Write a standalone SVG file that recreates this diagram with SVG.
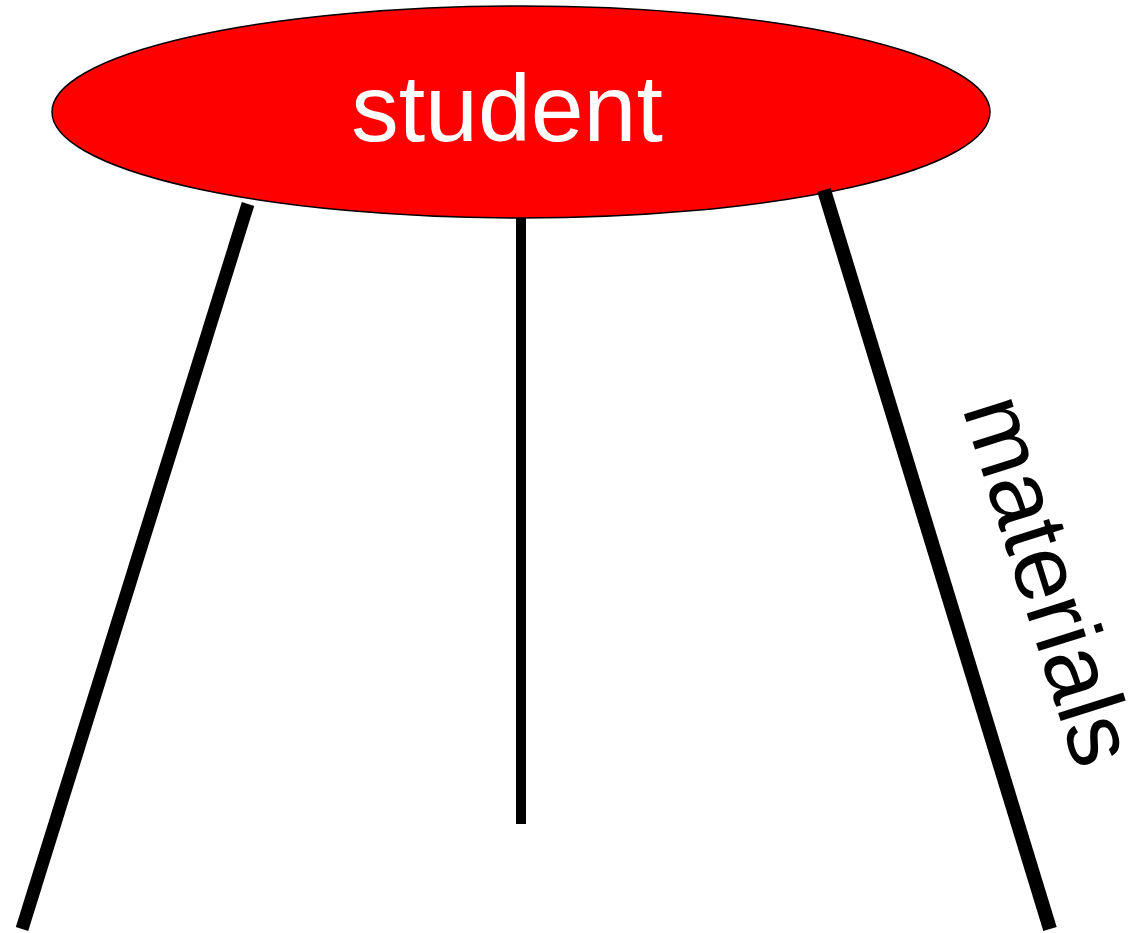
<svg xmlns="http://www.w3.org/2000/svg" width="1132" height="933" viewBox="0 0 1132 933">
<style>
.node-shape{fill:#ff0000;stroke:#000;stroke-width:1.5}
.node-label{fill:#fff;font-family:"Liberation Sans",Arial,sans-serif;font-size:95px;text-anchor:middle}
.edge{stroke:#000;fill:none;stroke-linecap:butt}
.edge-label{fill:#000;font-family:"Liberation Sans",Arial,sans-serif;font-size:94px}
</style>
<rect width="1132" height="933" fill="#fff"/>
<g id="student">
<ellipse class="node-shape" cx="521" cy="112" rx="469" ry="106"/>
<text class="node-label" x="507" y="141">student</text>
</g>
<g id="connectors">
<line class="edge" x1="248" y1="204" x2="22" y2="929" stroke-width="13"/>
<line class="edge" x1="521" y1="218" x2="521" y2="824" stroke-width="10"/>
<line class="edge" x1="824" y1="190" x2="1050" y2="929" stroke-width="14"/>
<text class="edge-label" transform="translate(962,408) rotate(72.5)">materials</text>
</g>
</svg>
